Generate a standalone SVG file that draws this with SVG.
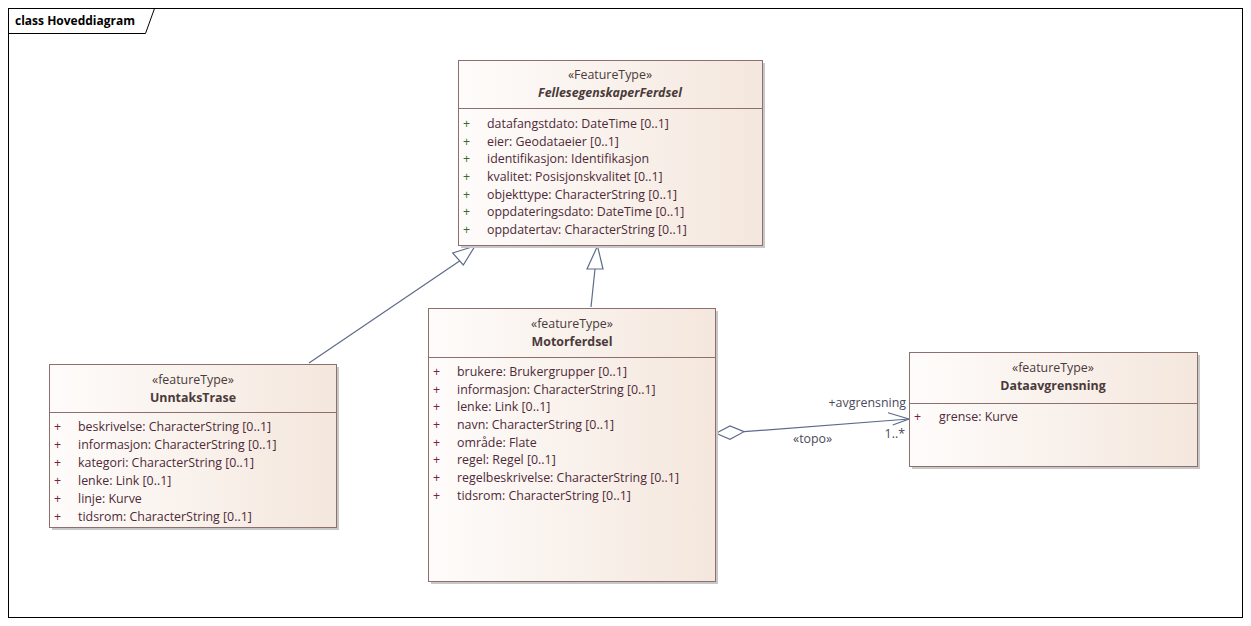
<svg xmlns="http://www.w3.org/2000/svg" width="1251" height="626" viewBox="0 0 1251 626">
<style>
text{font-family:"Open Sans","Noto Sans",sans-serif;font-size:12.4px;fill:#4e2a38}
.st{text-anchor:middle;fill:#4a3a3a}
.nm{text-anchor:middle;font-weight:bold;fill:#4a3a3a}
.it{font-style:italic}
.pl{fill:#7a2040}
.pg{fill:#3d6a2a}
.box{fill:url(#g);stroke:#8c7070;stroke-width:1}
.sh{fill:#c8c8c8}
.sep{stroke:#8c7070;stroke-width:1}
.ln{stroke:#5d6b8a;stroke-width:1.2;fill:none}
.lbl{fill:#4a4a5a}
</style>
<defs>
<linearGradient id="g" x1="0" y1="0" x2="1" y2="0">
<stop offset="0" stop-color="#fefcfb"/>
<stop offset="1" stop-color="#f4e7dd"/>
</linearGradient>
</defs>
<rect x="0" y="0" width="1251" height="626" fill="#ffffff"/>
<g id="frame">
<rect x="8.5" y="8.5" width="1234" height="609" fill="none" stroke="#000" stroke-width="1"/>
<path d="M8.5 33.5 H145.5 L154.5 8.5" fill="none" stroke="#000" stroke-width="1"/>
<text x="15" y="25" style="font-weight:bold;fill:#000;font-size:12px">class Hoveddiagram</text>
</g>
<g id="connectors">
<line class="ln" x1="309" y1="363" x2="464" y2="258"/>
<polygon class="ln" points="475,246 452.7,253 463.3,265" style="fill:#fff"/>
<line class="ln" x1="591" y1="307" x2="595" y2="269"/>
<polygon class="ln" points="597.5,246 587,269 603,269" style="fill:#fff"/>
<line class="ln" x1="744" y1="431.7" x2="909" y2="419"/>
<polygon class="ln" points="716,433.3 730,426 744,431.7 730,439.3" style="fill:#fff"/>
<polyline class="ln" points="888,412.7 909,419 892.7,425"/>
<text class="lbl" x="906" y="407" text-anchor="end">+avgrensning</text>
<text class="lbl" x="905" y="438" text-anchor="end">1..*</text>
<text class="lbl" x="793" y="443">«topo»</text>
</g>
<g id="FellesegenskaperFerdsel">
<rect class="sh" x="461" y="63" width="304" height="185"/>
<rect class="box" x="458.5" y="60.5" width="304" height="185"/>
<line class="sep" x1="458.5" y1="108.5" x2="762.5" y2="108.5"/>
<text class="st" x="610" y="79">«FeatureType»</text>
<text class="nm it" x="610" y="97">FellesegenskaperFerdsel</text>
<text class="pg" x="463" y="128">+</text><text x="487" y="128">datafangstdato: DateTime [0..1]</text>
<text class="pg" x="463" y="146">+</text><text x="487" y="146">eier: Geodataeier [0..1]</text>
<text class="pg" x="463" y="163">+</text><text x="487" y="163">identifikasjon: Identifikasjon</text>
<text class="pg" x="463" y="181">+</text><text x="487" y="181">kvalitet: Posisjonskvalitet [0..1]</text>
<text class="pg" x="463" y="199">+</text><text x="487" y="199">objekttype: CharacterString [0..1]</text>
<text class="pg" x="463" y="216">+</text><text x="487" y="216">oppdateringsdato: DateTime [0..1]</text>
<text class="pg" x="463" y="234">+</text><text x="487" y="234">oppdatertav: CharacterString [0..1]</text>
</g>
<g id="Motorferdsel">
<rect class="sh" x="431" y="311" width="287" height="273"/>
<rect class="box" x="428.5" y="308.5" width="287" height="273"/>
<line class="sep" x1="428.5" y1="357.5" x2="715.5" y2="357.5"/>
<text class="st" x="572" y="328">«featureType»</text>
<text class="nm" x="572" y="346">Motorferdsel</text>
<text class="pl" x="433" y="376">+</text><text x="457" y="376">brukere: Brukergrupper [0..1]</text>
<text class="pl" x="433" y="394">+</text><text x="457" y="394">informasjon: CharacterString [0..1]</text>
<text class="pl" x="433" y="411">+</text><text x="457" y="411">lenke: Link [0..1]</text>
<text class="pl" x="433" y="429">+</text><text x="457" y="429">navn: CharacterString [0..1]</text>
<text class="pl" x="433" y="447">+</text><text x="457" y="447">område: Flate</text>
<text class="pl" x="433" y="464">+</text><text x="457" y="464">regel: Regel [0..1]</text>
<text class="pl" x="433" y="482">+</text><text x="457" y="482">regelbeskrivelse: CharacterString [0..1]</text>
<text class="pl" x="433" y="500">+</text><text x="457" y="500">tidsrom: CharacterString [0..1]</text>
</g>
<g id="UnntaksTrase">
<rect class="sh" x="52" y="367" width="287" height="163"/>
<rect class="box" x="49.5" y="364.5" width="287" height="163"/>
<line class="sep" x1="49.5" y1="412.5" x2="336.5" y2="412.5"/>
<text class="st" x="193" y="384">«featureType»</text>
<text class="nm" x="193" y="402">UnntaksTrase</text>
<text class="pl" x="54" y="431">+</text><text x="78" y="431">beskrivelse: CharacterString [0..1]</text>
<text class="pl" x="54" y="449">+</text><text x="78" y="449">informasjon: CharacterString [0..1]</text>
<text class="pl" x="54" y="467">+</text><text x="78" y="467">kategori: CharacterString [0..1]</text>
<text class="pl" x="54" y="485">+</text><text x="78" y="485">lenke: Link [0..1]</text>
<text class="pl" x="54" y="503">+</text><text x="78" y="503">linje: Kurve</text>
<text class="pl" x="54" y="521">+</text><text x="78" y="521">tidsrom: CharacterString [0..1]</text>
</g>
<g id="Dataavgrensning">
<rect class="sh" x="912" y="355" width="288" height="114"/>
<rect class="box" x="909.5" y="352.5" width="288" height="114"/>
<line class="sep" x1="909.5" y1="403.5" x2="1197.5" y2="403.5"/>
<text class="st" x="1053" y="372">«featureType»</text>
<text class="nm" x="1053" y="390">Dataavgrensning</text>
<text class="pl" x="914" y="421">+</text><text x="939" y="421">grense: Kurve</text>
</g>
</svg>
